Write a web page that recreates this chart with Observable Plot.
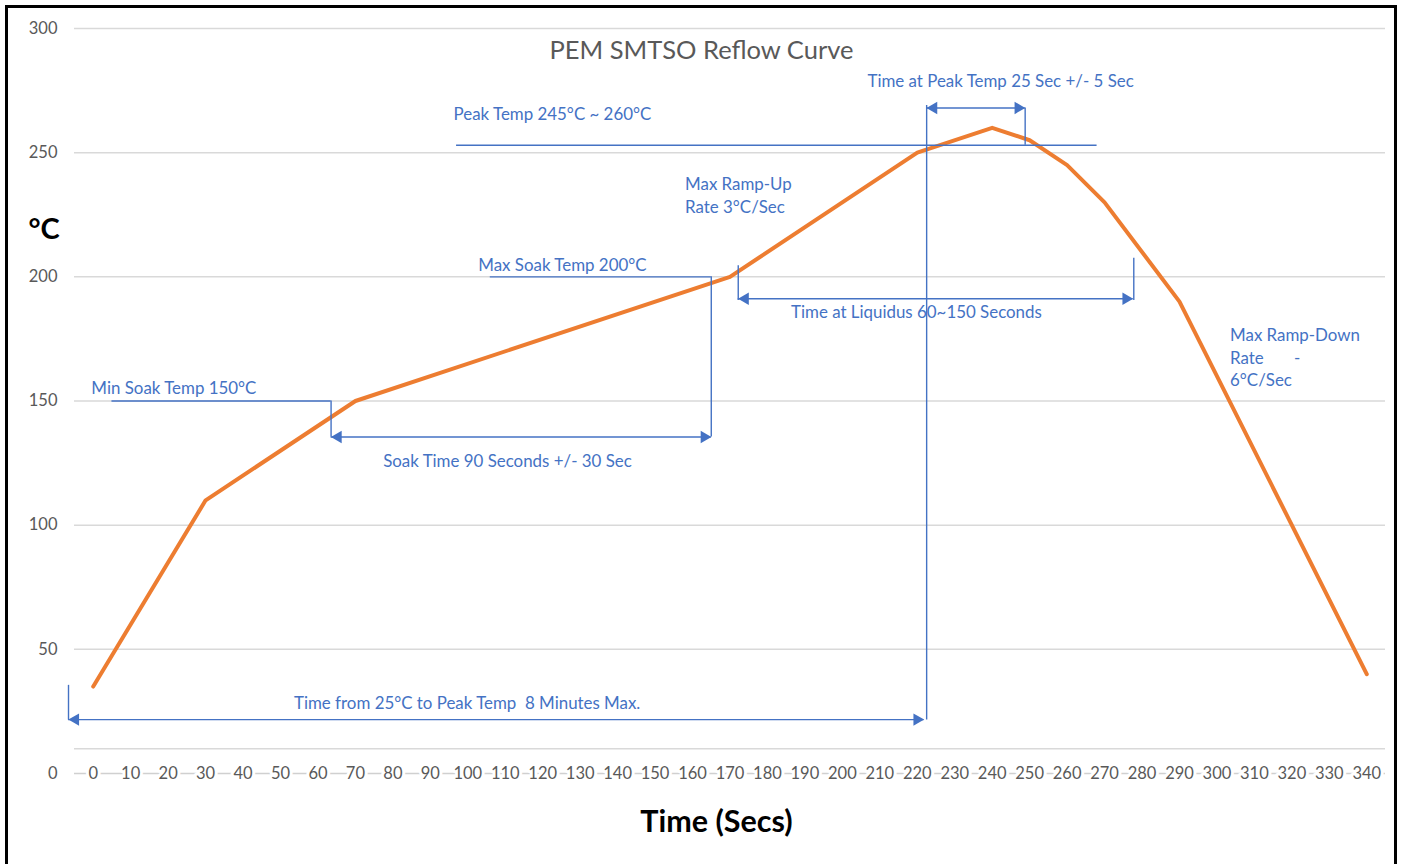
<!DOCTYPE html>
<html>
<head>
<meta charset="utf-8">
<script src="https://cdn.jsdelivr.net/npm/d3@7"></script>
<script src="https://cdn.jsdelivr.net/npm/@observablehq/plot@0.6"></script>
<style>
  html, body { margin: 0; padding: 0; background: #fff; }
  #wrap { position: relative; width: 1401px; height: 864px; overflow: hidden; }
  #frame { position: absolute; left: 5px; top: 5px; width: 1386px; height: 900px;
           border-top: 3px solid #000; border-left: 3px solid #000; border-right: 3px solid #000; pointer-events: none; }
  svg text { white-space: pre; }
</style>
</head>
<body>
<div id="wrap"><div id="chart"></div><div id="frame"></div></div>
<script>
// Reflow curve
const time = [0, 30, 70, 170, 220, 240, 250, 260, 270, 290, 340];
const temp = [35, 110, 150, 200, 250, 260, 255, 245, 230, 190, 40];

// Axis ticks
const xTicks = [0,10,20,30,40,50,60,70,80,90,100,110,120,130,140,150,160,170,180,190,200,210,220,230,240,250,260,270,280,290,300,310,320,330,340];
const yTicks = [0, 50, 100, 150, 200, 250, 300];
const gridY = [10, 50, 100, 150, 200, 250, 300];

// Annotation guides (time, °C)
const guideH = [
  {y: 253, x1: 97, x2: 268},
  {y: 200, x1: 106, x2: 165},
  {y: 150, x1: 5, x2: 63.5}
];
const guideV = [
  {x: 222.5, y1: 21.5, y2: 269},
  {x: 248.8, y1: 253, y2: 268},
  {x: 165, y1: 135.5, y2: 200},
  {x: 63.5, y1: 135.5, y2: 150},
  {x: 172.2, y1: 190.5, y2: 204.5},
  {x: 277.8, y1: 190.5, y2: 207.5},
  {x: -6.6, y1: 21.5, y2: 35.5}
];
const spans = [
  {y: 268, x1: 222.5, x2: 248.8},
  {y: 135.5, x1: 63.5, x2: 165},
  {y: 191.2, x1: 172.2, x2: 277.6},
  {y: 21.7, x1: -6.6, x2: 221.8}
];
const notes = [
  {t: "Peak Temp 245°C ~ 260°C", x: 96.2, y: 266.2},
  {t: "Time at Peak Temp 25 Sec +/- 5 Sec", x: 206.7, y: 279.5},
  {t: "Max Ramp-Up\nRate 3°C/Sec", x: 158, y: 233.2},
  {t: "Max Soak Temp 200°C", x: 102.8, y: 205.4},
  {t: "Time at Liquidus 60~150 Seconds", x: 186.3, y: 186.4},
  {t: "Min Soak Temp 150°C", x: -0.5, y: 155.8},
  {t: "Soak Time 90 Seconds +/- 30 Sec", x: 77.4, y: 126.4},
  {t: "Max Ramp-Down\nRate       -\n6°C/Sec", x: 303.5, y: 168},
  {t: "Time from 25°C to Peak Temp  8 Minutes Max.", x: 53.6, y: 29}
];

const curve = time.map((t, i) => ({t, v: temp[i]}));
const blue = "#4472C4";
const orange = "#ED7D31";
const gray = "#595959";

const chart = Plot.plot({
  width: 1401,
  height: 864,
  marginLeft: 74,
  marginRight: 16,
  marginTop: 28,
  marginBottom: 91,
  x: {domain: [-5, 345], axis: null},
  y: {domain: [0, 300], axis: null},
  style: {fontFamily: "Lato, 'Open Sans', sans-serif", background: "transparent", overflow: "visible"},
  marks: [
    Plot.ruleY(gridY, {stroke: "#D9D9D9", strokeWidth: 1.5}),
    Plot.ruleY([0], {stroke: "#D0D0D0", strokeWidth: 1.5}),
    Plot.text(xTicks, {x: d => d, y: () => 0, fill: gray, stroke: "white", strokeWidth: 6, fontSize: 16.5}),
    Plot.text(yTicks, {y: d => d, frameAnchor: "left", dx: -17, textAnchor: "end", fill: gray, fontSize: 16.5}),
    Plot.line(curve, {x: "t", y: "v", stroke: orange, strokeWidth: 4, strokeLinejoin: "round", strokeLinecap: "round"}),
    Plot.ruleY(guideH, {y: "y", x1: "x1", x2: "x2", stroke: blue, strokeWidth: 1.4}),
    Plot.ruleX(guideV, {x: "x", y1: "y1", y2: "y2", stroke: blue, strokeWidth: 1.4}),
    Plot.ruleY(spans, {y: "y", x1: "x1", x2: "x2", stroke: blue, strokeWidth: 1.4}),
    Plot.dot(spans, {x: "x2", y: "y", symbol: "triangle", r: 4.6, fill: blue, stroke: "none", rotate: 90, dx: -7}),
    Plot.dot(spans, {x: "x1", y: "y", symbol: "triangle", r: 4.6, fill: blue, stroke: "none", rotate: -90, dx: 7}),
    Plot.text(notes, {x: "x", y: "y", text: "t", textAnchor: "start", lineAnchor: "middle", fill: blue, fontSize: 16.9, lineHeight: 1.33}),
    Plot.text(["PEM SMTSO Reflow Curve"], {frameAnchor: "top", dx: -28.5, dy: 22, lineAnchor: "middle", fill: gray, fontSize: 25.5}),
    Plot.text(["°C"], {frameAnchor: "top-left", textAnchor: "start", lineAnchor: "middle", dx: -46, dy: 201, fill: "#000", fontSize: 29, fontWeight: "bold"}),
    Plot.text(["Time (Secs)"], {frameAnchor: "bottom", lineAnchor: "middle", dx: -13.5, dy: 49, fill: "#000", fontSize: 30.5, fontWeight: "bold"})
  ]
});
document.getElementById("chart").append(chart);
</script>
</body>
</html>
